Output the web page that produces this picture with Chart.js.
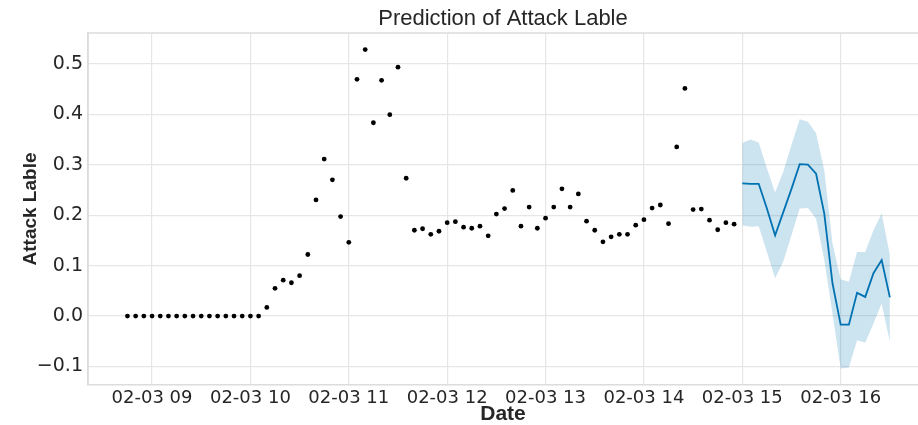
<!DOCTYPE html>
<html>
<head>
<meta charset="utf-8">
<script src="https://cdn.jsdelivr.net/npm/chart.js@4/dist/chart.umd.min.js"></script>
<style>
  body { margin: 0; background: #fff; }
  canvas { display: block; }
</style>
</head>
<body>
<canvas id="chart" width="918" height="425"></canvas>
<script>
// observed values, every 5 minutes on 02-03
var obsTimes = [
  "08:45", "08:50", "08:55", "09:00", "09:05", "09:10", "09:15", "09:20", "09:25", "09:30",
  "09:35", "09:40", "09:45", "09:50", "09:55", "10:00", "10:05", "10:10", "10:15", "10:20",
  "10:25", "10:30", "10:35", "10:40", "10:45", "10:50", "10:55", "11:00", "11:05", "11:10",
  "11:15", "11:20", "11:25", "11:30", "11:35", "11:40", "11:45", "11:50", "11:55", "12:00",
  "12:05", "12:10", "12:15", "12:20", "12:25", "12:30", "12:35", "12:40", "12:45", "12:50",
  "12:55", "13:00", "13:05", "13:10", "13:15", "13:20", "13:25", "13:30", "13:35", "13:40",
  "13:45", "13:50", "13:55", "14:00", "14:05", "14:10", "14:15", "14:20", "14:25", "14:30",
  "14:35", "14:40", "14:45", "14:50", "14:55"
];
var obsValues = [
  0, 0, 0, 0, 0, 0, 0, 0, 0, 0,
  0, 0, 0, 0, 0, 0, 0, 0.017, 0.055, 0.071,
  0.066, 0.080, 0.122, 0.230, 0.311, 0.270, 0.197, 0.146, 0.469, 0.528,
  0.383, 0.467, 0.399, 0.493, 0.273, 0.170, 0.173, 0.162, 0.168, 0.185,
  0.187, 0.176, 0.174, 0.178, 0.159, 0.202, 0.213, 0.249, 0.178, 0.216,
  0.174, 0.194, 0.216, 0.252, 0.216, 0.242, 0.188, 0.170, 0.147, 0.157,
  0.162, 0.162, 0.180, 0.191, 0.214, 0.220, 0.183, 0.335, 0.451, 0.211,
  0.212, 0.190, 0.171, 0.185, 0.182
];

// forecast with uncertainty interval
var fcTimes = [
  "15:00", "15:05", "15:10", "15:15", "15:20", "15:25", "15:30", "15:35", "15:40", "15:45",
  "15:50", "15:55", "16:00", "16:05", "16:10", "16:15", "16:20", "16:25", "16:30"
];
var fcValues = [
  0.263, 0.262, 0.262, 0.213, 0.160, 0.206, 0.252, 0.301, 0.300, 0.282,
  0.203, 0.065, -0.017, -0.017, 0.046, 0.038, 0.085, 0.111, 0.037
];
var fcUpper = [
  0.343, 0.350, 0.344, 0.293, 0.245, 0.286, 0.339, 0.390, 0.385, 0.362,
  0.289, 0.144, 0.073, 0.068, 0.127, 0.127, 0.170, 0.203, 0.121
];
var fcLower = [
  0.180, 0.177, 0.178, 0.127, 0.075, 0.108, 0.160, 0.213, 0.214, 0.193,
  0.111, 0.005, -0.104, -0.102, -0.048, -0.053, -0.015, 0.025, -0.051
];

var xTickHours = [9, 10, 11, 12, 13, 14, 15, 16];
var xTickLabels = ["02-03 09", "02-03 10", "02-03 11", "02-03 12", "02-03 13", "02-03 14", "02-03 15", "02-03 16"];
var yTicks = [-0.1, 0, 0.1, 0.2, 0.3, 0.4, 0.5];

function toHours(t) {
  var p = t.split(":");
  return Number(p[0]) + Number(p[1]) / 60;
}
function toPoints(times, values) {
  return times.map(function (t, i) {
    return { x: toHours(t), y: values[i] };
  });
}

var gridColor = "#e6e6e6";
var textColor = "#262626";

// title centred over the plot and a frame on the left and top
var framePlugin = {
  id: "frame",
  afterDraw: function (chart) {
    var ctx = chart.ctx;
    var a = chart.chartArea;
    ctx.save();
    ctx.strokeStyle = "#dcdcdc";
    ctx.lineWidth = 1.5;
    ctx.beginPath();
    ctx.moveTo(a.left, a.bottom);
    ctx.lineTo(a.left, a.top);
    ctx.lineTo(a.right, a.top);
    ctx.stroke();
    ctx.fillStyle = textColor;
    ctx.font = '22px "Liberation Sans"';
    ctx.textAlign = "center";
    ctx.textBaseline = "middle";
    ctx.fillText("Prediction of Attack Lable", (a.left + a.right) / 2, 19);
    ctx.restore();
  }
};

var ctx = document.getElementById("chart").getContext("2d");
var chart = new Chart(ctx, {
  type: "line",
  data: {
    datasets: [
      {
        label: "observed",
        data: toPoints(obsTimes, obsValues),
        showLine: false,
        pointRadius: 2.4,
        pointBackgroundColor: "#000",
        pointBorderWidth: 0,
        order: 0
      },
      {
        label: "yhat",
        data: toPoints(fcTimes, fcValues),
        borderColor: "#0072B2",
        borderWidth: 1.8,
        pointRadius: 0,
        fill: false,
        order: 1
      },
      {
        label: "upper",
        data: toPoints(fcTimes, fcUpper),
        borderWidth: 0,
        pointRadius: 0,
        backgroundColor: "rgba(0, 114, 178, 0.2)",
        fill: "+1",
        order: 2
      },
      {
        label: "lower",
        data: toPoints(fcTimes, fcLower),
        borderWidth: 0,
        pointRadius: 0,
        fill: false,
        order: 3
      }
    ]
  },
  options: {
    responsive: false,
    animation: false,
    layout: { autoPadding: false, padding: { top: 33, right: 0, left: 0, bottom: 0 } },
    plugins: {
      legend: { display: false },
      tooltip: { enabled: false }
    },
    scales: {
      x: {
        type: "linear",
        min: 8.349,
        max: 16.786,
        afterBuildTicks: function (scale) {
          scale.ticks = xTickHours.map(function (h) { return { value: h }; });
        },
        afterFit: function (scale) { scale.height = 40; },
        ticks: {
          padding: 3,
          color: textColor,
          font: { family: "DejaVu Sans", size: 18 },
          maxRotation: 0,
          autoSkip: false,
          callback: function (v) {
            var i = xTickHours.indexOf(v);
            return i >= 0 ? xTickLabels[i] : "";
          }
        },
        grid: { color: gridColor, lineWidth: 1.2, drawTicks: false },
        border: { color: "#dcdcdc", width: 1.5 },
        title: {
          display: true,
          text: "Date",
          color: textColor,
          font: { family: "Liberation Sans", size: 21, weight: "bold", lineHeight: 1 },
          padding: { top: 0, bottom: 0 }
        }
      },
      y: {
        min: -0.1366,
        max: 0.5608,
        afterBuildTicks: function (scale) {
          scale.ticks = yTicks.map(function (v) { return { value: v }; });
        },
        afterFit: function (scale) { scale.width = 88; },
        ticks: {
          padding: 5,
          color: textColor,
          font: { family: "DejaVu Sans", size: 19 },
          callback: function (v) {
            var s = Math.abs(v).toFixed(1);
            return v < 0 ? "\u2212" + s : s;
          }
        },
        grid: { color: gridColor, lineWidth: 1.2, drawTicks: false },
        border: { color: "#dcdcdc", width: 1.5 },
        title: {
          display: true,
          text: "Attack Lable",
          color: textColor,
          font: { family: "Liberation Sans", size: 19, weight: "bold" },
          padding: { top: 19, bottom: 0 }
        }
      }
    }
  },
  plugins: [framePlugin]
});
</script>
</body>
</html>
